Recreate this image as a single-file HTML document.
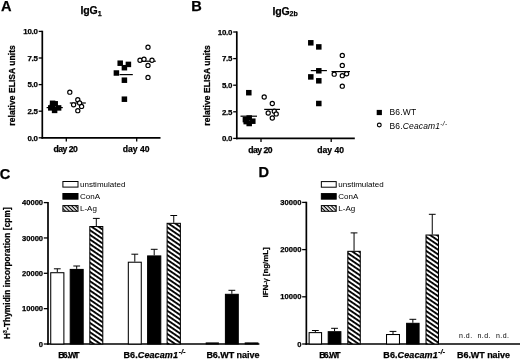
<!DOCTYPE html>
<html><head><meta charset="utf-8"><title>Figure</title>
<style>
html,body{margin:0;padding:0;background:#fff;}
body{width:520px;height:359px;overflow:hidden;font-family:"Liberation Sans",sans-serif;}
svg{display:block;filter:blur(0.35px);}
svg text{font-family:"Liberation Sans",sans-serif;fill:#000;}
svg text[font-weight=bold]{stroke:#000;stroke-width:0.25px;}
</style></head><body>
<svg width="520" height="359" viewBox="0 0 520 359">
<defs>
<pattern id="hatch" patternUnits="userSpaceOnUse" width="3.83" height="3.83" patternTransform="translate(0,0.8) rotate(34.3)">
<rect width="3.83" height="3.83" fill="#fff"/>
<rect x="0" y="0" width="3.83" height="1.85" fill="#000"/>
</pattern>
<pattern id="hatch2" patternUnits="userSpaceOnUse" width="2.7" height="2.7" patternTransform="translate(0.2,0) rotate(45)">
<rect width="2.7" height="2.7" fill="#fff"/>
<rect x="0" y="0" width="2.7" height="1.15" fill="#000"/>
</pattern>
</defs>
<rect width="520" height="359" fill="#fff"/>
<text x="1" y="10.7" font-size="14.6" font-weight="bold" text-anchor="start" >A</text>
<line x1="42.3" y1="30.750000000000007" x2="42.3" y2="138.65" stroke="#000" stroke-width="1.7" />
<line x1="41.449999999999996" y1="137.8" x2="160.5" y2="137.8" stroke="#000" stroke-width="1.7" />
<line x1="38.699999999999996" y1="137.8" x2="42.3" y2="137.8" stroke="#000" stroke-width="1.3" />
<text x="37.699999999999996" y="140.65" font-size="7.9" font-weight="bold" text-anchor="end" letter-spacing="-0.25">0.0</text>
<line x1="38.699999999999996" y1="111.20000000000002" x2="42.3" y2="111.20000000000002" stroke="#000" stroke-width="1.3" />
<text x="37.699999999999996" y="114.05000000000001" font-size="7.9" font-weight="bold" text-anchor="end" letter-spacing="-0.25">2.5</text>
<line x1="38.699999999999996" y1="84.60000000000001" x2="42.3" y2="84.60000000000001" stroke="#000" stroke-width="1.3" />
<text x="37.699999999999996" y="87.45" font-size="7.9" font-weight="bold" text-anchor="end" letter-spacing="-0.25">5.0</text>
<line x1="38.699999999999996" y1="58.0" x2="42.3" y2="58.0" stroke="#000" stroke-width="1.3" />
<text x="37.699999999999996" y="60.85" font-size="7.9" font-weight="bold" text-anchor="end" letter-spacing="-0.25">7.5</text>
<line x1="38.699999999999996" y1="31.400000000000006" x2="42.3" y2="31.400000000000006" stroke="#000" stroke-width="1.3" />
<text x="37.699999999999996" y="34.25000000000001" font-size="7.9" font-weight="bold" text-anchor="end" letter-spacing="-0.25">10.0</text>
<line x1="66.3" y1="137.8" x2="66.3" y2="141.4" stroke="#000" stroke-width="1.3" />
<text x="65.7" y="152.15" font-size="8.6" font-weight="bold" text-anchor="middle" textLength="24.3" lengthAdjust="spacing">day 20</text>
<line x1="136.7" y1="137.8" x2="136.7" y2="141.4" stroke="#000" stroke-width="1.3" />
<text x="136.1" y="152.15" font-size="8.6" font-weight="bold" text-anchor="middle" textLength="26.9" lengthAdjust="spacing">day 40</text>
<text transform="translate(15.0,85.4) rotate(-90)" font-size="8.5" font-weight="bold" text-anchor="middle" textLength="80.5" lengthAdjust="spacing">relative ELISA units</text>
<text x="80.6" y="13.95" font-size="10.5" font-weight="bold" letter-spacing="-0.15">IgG<tspan font-size="7" dy="1.7" dx="0">1</tspan></text>
<line x1="46.6" y1="107.6" x2="62.8" y2="107.6" stroke="#000" stroke-width="1.2" />
<rect x="49.85" y="100.55" width="5.5" height="5.5" fill="#000"/>
<rect x="52.45" y="101.05" width="5.5" height="5.5" fill="#000"/>
<rect x="48.05" y="105.15" width="5.5" height="5.5" fill="#000"/>
<rect x="55.85" y="105.15" width="5.5" height="5.5" fill="#000"/>
<rect x="51.85" y="107.65" width="5.5" height="5.5" fill="#000"/>
<rect x="49.75" y="103.75" width="5.5" height="5.5" fill="#000"/>
<line x1="69.8" y1="103" x2="85.8" y2="103" stroke="#000" stroke-width="1.2" />
<circle cx="69.8" cy="92.2" r="2.1" fill="#fff" stroke="#000" stroke-width="1.15"/>
<circle cx="77.8" cy="99.7" r="2.1" fill="#fff" stroke="#000" stroke-width="1.15"/>
<circle cx="79.6" cy="103" r="2.1" fill="#fff" stroke="#000" stroke-width="1.15"/>
<circle cx="73.6" cy="104.8" r="2.1" fill="#fff" stroke="#000" stroke-width="1.15"/>
<circle cx="81.6" cy="106.4" r="2.1" fill="#fff" stroke="#000" stroke-width="1.15"/>
<circle cx="77.8" cy="110.7" r="2.1" fill="#fff" stroke="#000" stroke-width="1.15"/>
<line x1="119.5" y1="74.6" x2="132.8" y2="74.6" stroke="#000" stroke-width="1.2" />
<rect x="117.45" y="60.45" width="5.5" height="5.5" fill="#000"/>
<rect x="125.65" y="61.65" width="5.5" height="5.5" fill="#000"/>
<rect x="121.65" y="64.95" width="5.5" height="5.5" fill="#000"/>
<rect x="113.65" y="70.25" width="5.5" height="5.5" fill="#000"/>
<rect x="121.65" y="77.45" width="5.5" height="5.5" fill="#000"/>
<rect x="121.65" y="96.45" width="5.5" height="5.5" fill="#000"/>
<line x1="140" y1="61.2" x2="155.8" y2="61.2" stroke="#000" stroke-width="1.2" />
<circle cx="148" cy="47.2" r="2.1" fill="#fff" stroke="#000" stroke-width="1.15"/>
<circle cx="140" cy="60.2" r="2.1" fill="#fff" stroke="#000" stroke-width="1.15"/>
<circle cx="144" cy="59.2" r="2.1" fill="#fff" stroke="#000" stroke-width="1.15"/>
<circle cx="152" cy="60.2" r="2.1" fill="#fff" stroke="#000" stroke-width="1.15"/>
<circle cx="148" cy="65.4" r="2.1" fill="#fff" stroke="#000" stroke-width="1.15"/>
<circle cx="148" cy="77.4" r="2.1" fill="#fff" stroke="#000" stroke-width="1.15"/>
<text x="191.2" y="10.8" font-size="14.6" font-weight="bold" text-anchor="start" >B</text>
<line x1="236.8" y1="31.35" x2="236.8" y2="139.25" stroke="#000" stroke-width="1.7" />
<line x1="235.95000000000002" y1="138.4" x2="354.8" y2="138.4" stroke="#000" stroke-width="1.7" />
<line x1="233.20000000000002" y1="138.4" x2="236.8" y2="138.4" stroke="#000" stroke-width="1.3" />
<text x="232.20000000000002" y="141.25" font-size="7.9" font-weight="bold" text-anchor="end" letter-spacing="-0.25">0.0</text>
<line x1="233.20000000000002" y1="111.80000000000001" x2="236.8" y2="111.80000000000001" stroke="#000" stroke-width="1.3" />
<text x="232.20000000000002" y="114.65" font-size="7.9" font-weight="bold" text-anchor="end" letter-spacing="-0.25">2.5</text>
<line x1="233.20000000000002" y1="85.2" x2="236.8" y2="85.2" stroke="#000" stroke-width="1.3" />
<text x="232.20000000000002" y="88.05" font-size="7.9" font-weight="bold" text-anchor="end" letter-spacing="-0.25">5.0</text>
<line x1="233.20000000000002" y1="58.599999999999994" x2="236.8" y2="58.599999999999994" stroke="#000" stroke-width="1.3" />
<text x="232.20000000000002" y="61.449999999999996" font-size="7.9" font-weight="bold" text-anchor="end" letter-spacing="-0.25">7.5</text>
<line x1="233.20000000000002" y1="32.0" x2="236.8" y2="32.0" stroke="#000" stroke-width="1.3" />
<text x="232.20000000000002" y="34.85" font-size="7.9" font-weight="bold" text-anchor="end" letter-spacing="-0.25">10.0</text>
<line x1="261.0" y1="138.4" x2="261.0" y2="142.0" stroke="#000" stroke-width="1.3" />
<text x="260.4" y="152.75" font-size="8.6" font-weight="bold" text-anchor="middle" textLength="24.3" lengthAdjust="spacing">day 20</text>
<line x1="331.2" y1="138.4" x2="331.2" y2="142.0" stroke="#000" stroke-width="1.3" />
<text x="330.59999999999997" y="152.75" font-size="8.6" font-weight="bold" text-anchor="middle" textLength="26.9" lengthAdjust="spacing">day 40</text>
<text transform="translate(209.9,85.4) rotate(-90)" font-size="8.5" font-weight="bold" text-anchor="middle" textLength="80.5" lengthAdjust="spacing">relative ELISA units</text>
<text x="272.4" y="14.6" font-size="10.5" font-weight="bold" letter-spacing="-0.15">IgG<tspan font-size="7" dy="1.7" dx="0" letter-spacing="0.2">2b</tspan></text>
<line x1="240.5" y1="116.2" x2="257" y2="116.2" stroke="#000" stroke-width="1.2" />
<rect x="246.05" y="89.95" width="5.5" height="5.5" fill="#000"/>
<rect x="242.65" y="116.85" width="5.5" height="5.5" fill="#000"/>
<rect x="246.45" y="115.25" width="5.5" height="5.5" fill="#000"/>
<rect x="250.05" y="118.45" width="5.5" height="5.5" fill="#000"/>
<rect x="246.45" y="120.75" width="5.5" height="5.5" fill="#000"/>
<rect x="243.45" y="118.85" width="5.5" height="5.5" fill="#000"/>
<line x1="264.2" y1="109.4" x2="280" y2="109.4" stroke="#000" stroke-width="1.2" />
<circle cx="264.2" cy="97" r="2.1" fill="#fff" stroke="#000" stroke-width="1.15"/>
<circle cx="272.3" cy="103.5" r="2.1" fill="#fff" stroke="#000" stroke-width="1.15"/>
<circle cx="274.3" cy="111.2" r="2.1" fill="#fff" stroke="#000" stroke-width="1.15"/>
<circle cx="268.2" cy="113" r="2.1" fill="#fff" stroke="#000" stroke-width="1.15"/>
<circle cx="276.2" cy="113.9" r="2.1" fill="#fff" stroke="#000" stroke-width="1.15"/>
<circle cx="272.3" cy="118" r="2.1" fill="#fff" stroke="#000" stroke-width="1.15"/>
<line x1="310.8" y1="70.6" x2="326.9" y2="70.6" stroke="#000" stroke-width="1.2" />
<rect x="308.05" y="40.05" width="5.5" height="5.5" fill="#000"/>
<rect x="316.05" y="44.15" width="5.5" height="5.5" fill="#000"/>
<rect x="316.05" y="68.05" width="5.5" height="5.5" fill="#000"/>
<rect x="308.05" y="74.15" width="5.5" height="5.5" fill="#000"/>
<rect x="316.05" y="78.05" width="5.5" height="5.5" fill="#000"/>
<rect x="316.05" y="100.75" width="5.5" height="5.5" fill="#000"/>
<line x1="331.5" y1="71.6" x2="350" y2="71.6" stroke="#000" stroke-width="1.2" />
<circle cx="342.3" cy="55.4" r="2.1" fill="#fff" stroke="#000" stroke-width="1.15"/>
<circle cx="342.3" cy="65.4" r="2.1" fill="#fff" stroke="#000" stroke-width="1.15"/>
<circle cx="334.2" cy="74.2" r="2.1" fill="#fff" stroke="#000" stroke-width="1.15"/>
<circle cx="342.3" cy="75.7" r="2.1" fill="#fff" stroke="#000" stroke-width="1.15"/>
<circle cx="346.6" cy="73.8" r="2.1" fill="#fff" stroke="#000" stroke-width="1.15"/>
<circle cx="342.3" cy="86.2" r="2.1" fill="#fff" stroke="#000" stroke-width="1.15"/>
<rect x="376.70" y="109.90" width="5.2" height="5.2" fill="#000"/>
<circle cx="379.3" cy="125" r="1.9" fill="#fff" stroke="#000" stroke-width="1.15"/>
<g fill="#222">
<text x="389.5" y="114.8" font-size="8.5" font-weight="normal" text-anchor="start" letter-spacing="0.2" fill="#1a1a1a">B6.WT</text>
<text x="389.5" y="129.3" font-size="8.5" letter-spacing="0.15" fill="#1a1a1a">B6.<tspan font-style="italic">Ceacam1</tspan><tspan font-size="6.5" dy="-3.3" font-style="italic" letter-spacing="0.4">-/-</tspan></text>
</g>
<text x="-0.3" y="178.6" font-size="14.6" font-weight="bold" text-anchor="start" >C</text>
<line x1="48.0" y1="201.95" x2="48.0" y2="344.85" stroke="#000" stroke-width="1.7" />
<line x1="47.15" y1="344.0" x2="259.4" y2="344.0" stroke="#000" stroke-width="1.7" />
<line x1="43.8" y1="344.0" x2="48.0" y2="344.0" stroke="#000" stroke-width="1.3" />
<text x="43.1" y="346.6" font-size="7.6" font-weight="bold" text-anchor="end" >0</text>
<line x1="43.8" y1="308.65" x2="48.0" y2="308.65" stroke="#000" stroke-width="1.3" />
<text x="43.1" y="311.25" font-size="7.6" font-weight="bold" text-anchor="end" >10000</text>
<line x1="43.8" y1="273.3" x2="48.0" y2="273.3" stroke="#000" stroke-width="1.3" />
<text x="43.1" y="275.90000000000003" font-size="7.6" font-weight="bold" text-anchor="end" >20000</text>
<line x1="43.8" y1="237.95" x2="48.0" y2="237.95" stroke="#000" stroke-width="1.3" />
<text x="43.1" y="240.54999999999998" font-size="7.6" font-weight="bold" text-anchor="end" >30000</text>
<line x1="43.8" y1="202.6" x2="48.0" y2="202.6" stroke="#000" stroke-width="1.3" />
<text x="43.1" y="205.2" font-size="7.6" font-weight="bold" text-anchor="end" >40000</text>
<text transform="translate(9.6,273.2) rotate(-90)" font-size="8.15" font-weight="bold" text-anchor="middle" textLength="131.6" lengthAdjust="spacing">H<tspan font-size="5" dy="-2.8">3</tspan><tspan dy="2.8">-Thymidin incorporation [cpm]</tspan></text>
<rect x="62.9" y="181.5" width="15.100000000000001" height="5.60" fill="#fff" stroke="#000" stroke-width="1"/>
<text x="80.0" y="187.29999999999998" font-size="8.0" font-weight="normal" text-anchor="start" fill="#1a1a1a">unstimulated</text>
<rect x="62.9" y="193.5" width="15.100000000000001" height="5.65" fill="#000" stroke="#000" stroke-width="1"/>
<text x="80.0" y="199.35" font-size="8.0" font-weight="normal" text-anchor="start" fill="#1a1a1a">ConA</text>
<rect x="62.9" y="205.6" width="15.100000000000001" height="5.70" fill="url(#hatch2)" stroke="#000" stroke-width="1"/>
<text x="80.0" y="211.0" font-size="8.0" font-weight="normal" text-anchor="start" fill="#1a1a1a">L-Ag</text>
<line x1="57.300000000000004" y1="268.8" x2="57.300000000000004" y2="272.2" stroke="#000" stroke-width="1.0" />
<line x1="53.900000000000006" y1="268.8" x2="60.7" y2="268.8" stroke="#000" stroke-width="1.0" />
<rect x="50.73" y="272.72" width="13.15" height="71.28" fill="#fff" stroke="#000" stroke-width="1.05"/>
<line x1="76.7" y1="266" x2="76.7" y2="268.90000000000003" stroke="#000" stroke-width="1.0" />
<line x1="73.3" y1="266" x2="80.10000000000001" y2="266" stroke="#000" stroke-width="1.0" />
<rect x="70.23" y="269.43" width="12.95" height="74.57" fill="#000" stroke="#000" stroke-width="1.05"/>
<line x1="96.30000000000001" y1="218.4" x2="96.30000000000001" y2="226.0" stroke="#000" stroke-width="1.0" />
<line x1="92.9" y1="218.4" x2="99.70000000000002" y2="218.4" stroke="#000" stroke-width="1.0" />
<rect x="89.83" y="226.53" width="12.95" height="117.47" fill="url(#hatch)" stroke="#000" stroke-width="1.05"/>
<line x1="134.8" y1="254.2" x2="134.8" y2="261.7" stroke="#000" stroke-width="1.0" />
<line x1="131.4" y1="254.2" x2="138.20000000000002" y2="254.2" stroke="#000" stroke-width="1.0" />
<rect x="128.32" y="262.22" width="12.95" height="81.78" fill="#fff" stroke="#000" stroke-width="1.05"/>
<line x1="154.2" y1="249.3" x2="154.2" y2="255.4" stroke="#000" stroke-width="1.0" />
<line x1="150.79999999999998" y1="249.3" x2="157.6" y2="249.3" stroke="#000" stroke-width="1.0" />
<rect x="147.62" y="255.93" width="13.15" height="88.07" fill="#000" stroke="#000" stroke-width="1.05"/>
<line x1="173.75" y1="215.5" x2="173.75" y2="222.8" stroke="#000" stroke-width="1.0" />
<line x1="170.35" y1="215.5" x2="177.15" y2="215.5" stroke="#000" stroke-width="1.0" />
<rect x="167.12" y="223.33" width="13.25" height="120.67" fill="url(#hatch)" stroke="#000" stroke-width="1.05"/>
<rect x="206.22" y="342.93" width="12.15" height="1.07" fill="#fff" stroke="#000" stroke-width="1.05"/>
<line x1="231.85" y1="290.3" x2="231.85" y2="293.8" stroke="#000" stroke-width="1.0" />
<line x1="228.45" y1="290.3" x2="235.25" y2="290.3" stroke="#000" stroke-width="1.0" />
<rect x="225.42" y="294.32" width="12.85" height="49.67" fill="#000" stroke="#000" stroke-width="1.05"/>
<rect x="245.22" y="342.93" width="12.65" height="1.07" fill="url(#hatch)" stroke="#000" stroke-width="1.05"/>
<text x="58.3" y="357.5" font-size="8.7" font-weight="bold" text-anchor="start" dx="0 -1.75 -0.5 -1.45 -2.0">B6.WT</text>
<text x="123.5" y="357.8" font-size="9.0" font-weight="bold" textLength="54.4" lengthAdjust="spacing">B6.<tspan font-style="italic">Ceacam1</tspan></text>
<text x="178.8" y="354.0" font-size="6.5" font-weight="bold" font-style="italic" letter-spacing="0.3">-/-</text>
<text x="206.39999999999998" y="357.8" font-size="9.0" font-weight="bold" text-anchor="start" textLength="53.0" lengthAdjust="spacing">B6.WT naive</text>
<text x="258.6" y="177.4" font-size="14.6" font-weight="bold" text-anchor="start" >D</text>
<line x1="306.35" y1="201.74999999999997" x2="306.35" y2="344.85" stroke="#000" stroke-width="1.7" />
<line x1="305.5" y1="344.0" x2="520" y2="344.0" stroke="#000" stroke-width="1.7" />
<line x1="302.15000000000003" y1="344.0" x2="306.35" y2="344.0" stroke="#000" stroke-width="1.3" />
<text x="301.45000000000005" y="346.6" font-size="7.6" font-weight="bold" text-anchor="end" >0</text>
<line x1="302.15000000000003" y1="296.8" x2="306.35" y2="296.8" stroke="#000" stroke-width="1.3" />
<text x="301.45000000000005" y="299.40000000000003" font-size="7.6" font-weight="bold" text-anchor="end" >10000</text>
<line x1="302.15000000000003" y1="249.6" x2="306.35" y2="249.6" stroke="#000" stroke-width="1.3" />
<text x="301.45000000000005" y="252.2" font-size="7.6" font-weight="bold" text-anchor="end" >20000</text>
<line x1="302.15000000000003" y1="202.39999999999998" x2="306.35" y2="202.39999999999998" stroke="#000" stroke-width="1.3" />
<text x="301.45000000000005" y="204.99999999999997" font-size="7.6" font-weight="bold" text-anchor="end" >30000</text>
<text transform="translate(268.3,272.4) rotate(-90)" font-size="7.9" font-weight="bold" text-anchor="middle" textLength="50.2" lengthAdjust="spacing">IFN-<tspan font-weight="normal">&#947;</tspan> [ng/mL]</text>
<rect x="321.35" y="181.6" width="14.849999999999966" height="5.60" fill="#fff" stroke="#000" stroke-width="1"/>
<text x="338.3" y="187.39999999999998" font-size="8.0" font-weight="normal" text-anchor="start" fill="#1a1a1a">unstimulated</text>
<rect x="321.35" y="193.6" width="14.849999999999966" height="5.55" fill="#000" stroke="#000" stroke-width="1"/>
<text x="338.3" y="199.35" font-size="8.0" font-weight="normal" text-anchor="start" fill="#1a1a1a">ConA</text>
<rect x="321.35" y="205.6" width="14.849999999999966" height="5.70" fill="url(#hatch2)" stroke="#000" stroke-width="1"/>
<text x="338.3" y="211.0" font-size="8.0" font-weight="normal" text-anchor="start" fill="#1a1a1a">L-Ag</text>
<line x1="315.35" y1="330.5" x2="315.35" y2="332.1" stroke="#000" stroke-width="1.0" />
<line x1="311.95000000000005" y1="330.5" x2="318.75" y2="330.5" stroke="#000" stroke-width="1.0" />
<rect x="309.12" y="332.62" width="12.45" height="11.37" fill="#fff" stroke="#000" stroke-width="1.05"/>
<line x1="334.54999999999995" y1="328.3" x2="334.54999999999995" y2="331.2" stroke="#000" stroke-width="1.0" />
<line x1="331.15" y1="328.3" x2="337.94999999999993" y2="328.3" stroke="#000" stroke-width="1.0" />
<rect x="328.22" y="331.72" width="12.65" height="12.28" fill="#000" stroke="#000" stroke-width="1.05"/>
<line x1="354.05" y1="232.9" x2="354.05" y2="250.8" stroke="#000" stroke-width="1.0" />
<line x1="350.65000000000003" y1="232.9" x2="357.45" y2="232.9" stroke="#000" stroke-width="1.0" />
<rect x="347.82" y="251.33" width="12.45" height="92.67" fill="url(#hatch)" stroke="#000" stroke-width="1.05"/>
<line x1="393.0" y1="331.4" x2="393.0" y2="334.0" stroke="#000" stroke-width="1.0" />
<line x1="389.6" y1="331.4" x2="396.4" y2="331.4" stroke="#000" stroke-width="1.0" />
<rect x="386.52" y="334.52" width="12.95" height="9.47" fill="#fff" stroke="#000" stroke-width="1.05"/>
<line x1="412.85" y1="319.3" x2="412.85" y2="322.8" stroke="#000" stroke-width="1.0" />
<line x1="409.45000000000005" y1="319.3" x2="416.25" y2="319.3" stroke="#000" stroke-width="1.0" />
<rect x="406.62" y="323.32" width="12.45" height="20.67" fill="#000" stroke="#000" stroke-width="1.05"/>
<line x1="432.25" y1="214.3" x2="432.25" y2="234.5" stroke="#000" stroke-width="1.0" />
<line x1="428.85" y1="214.3" x2="435.65" y2="214.3" stroke="#000" stroke-width="1.0" />
<rect x="426.02" y="235.03" width="12.45" height="108.97" fill="url(#hatch)" stroke="#000" stroke-width="1.05"/>
<text x="465.85" y="338.2" font-size="7.0" font-weight="normal" text-anchor="middle" fill="#1a1a1a" letter-spacing="0.45">n.d.</text>
<text x="484.15" y="338.2" font-size="7.0" font-weight="normal" text-anchor="middle" fill="#1a1a1a" letter-spacing="0.45">n.d.</text>
<text x="502.65" y="338.2" font-size="7.0" font-weight="normal" text-anchor="middle" fill="#1a1a1a" letter-spacing="0.45">n.d.</text>
<text x="319.3" y="357.5" font-size="8.7" font-weight="bold" text-anchor="start" dx="0 -1.75 -0.5 -1.45 -2.0">B6.WT</text>
<text x="383.3" y="357.8" font-size="9.0" font-weight="bold" textLength="54.4" lengthAdjust="spacing">B6.<tspan font-style="italic">Ceacam1</tspan></text>
<text x="438.3" y="354.0" font-size="6.5" font-weight="bold" font-style="italic" letter-spacing="0.3">-/-</text>
<text x="457.0" y="357.8" font-size="9.0" font-weight="bold" text-anchor="start" textLength="53.0" lengthAdjust="spacing">B6.WT naive</text>
</svg>
</body></html>
